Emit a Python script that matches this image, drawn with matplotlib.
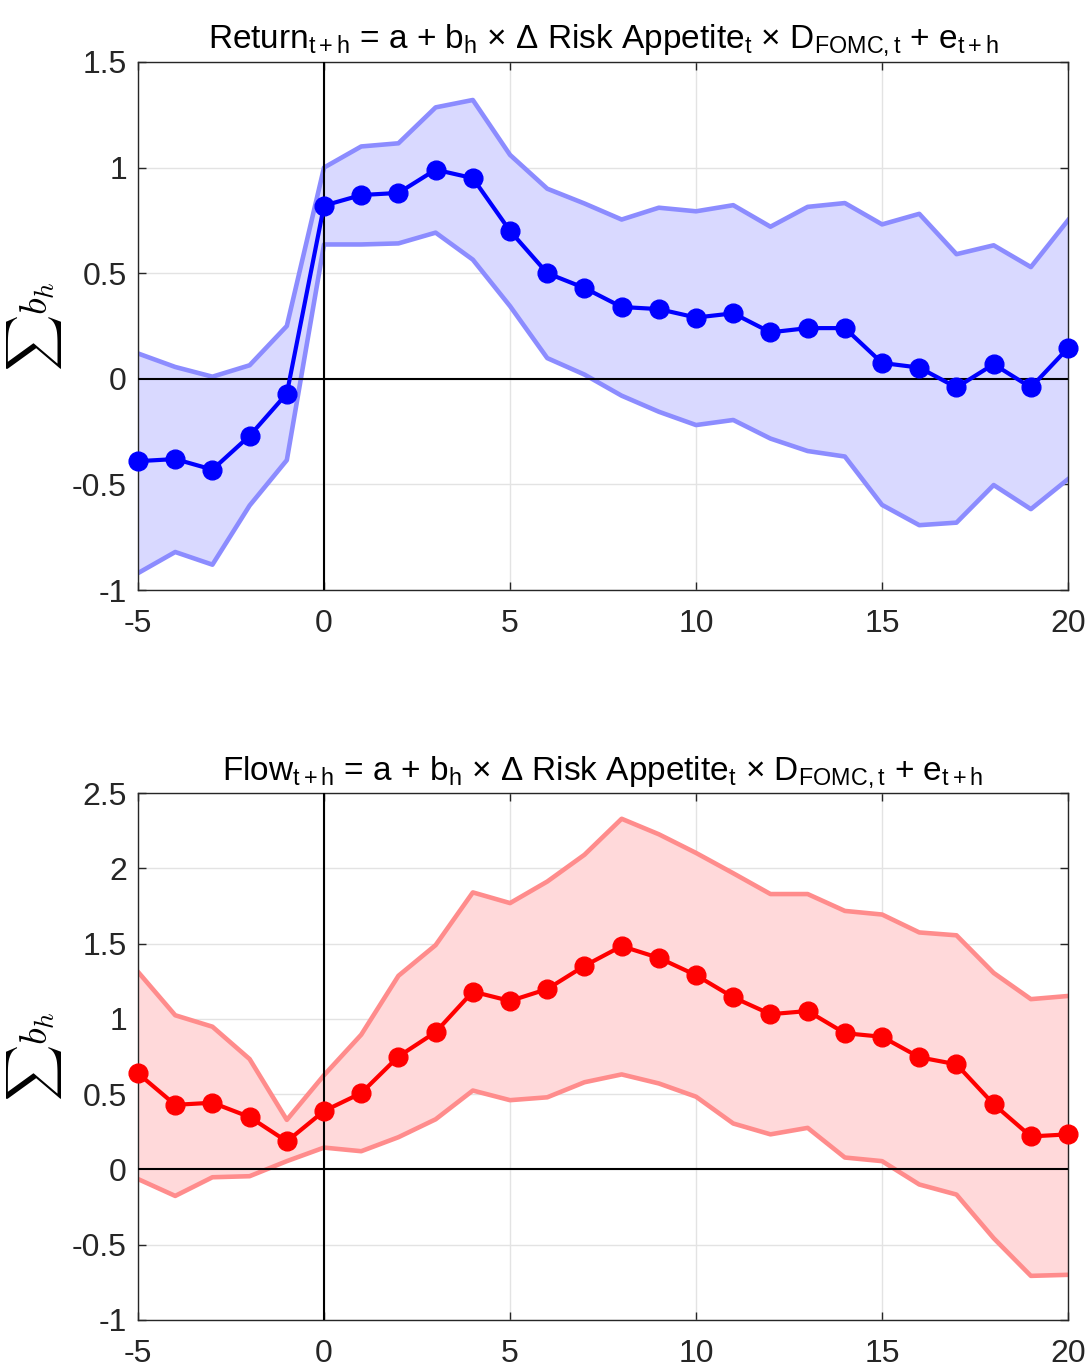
import numpy as np
import matplotlib
matplotlib.use('Agg')
import matplotlib.pyplot as plt

plt.rcParams['font.family'] = ['Liberation Sans', 'DejaVu Sans']
plt.rcParams['mathtext.fontset'] = 'custom'
plt.rcParams['mathtext.rm'] = 'Liberation Sans'
plt.rcParams['mathtext.it'] = 'Liberation Sans:italic'
plt.rcParams['axes.unicode_minus'] = False

# horizons
h = np.arange(-5, 21)

# Return regression: point estimate and band
ret_mean = [-0.39, -0.38, -0.43, -0.27, -0.07, 0.82, 0.87, 0.88, 0.99, 0.95,
            0.70, 0.50, 0.43, 0.34, 0.33, 0.29, 0.31, 0.22, 0.24, 0.24,
            0.075, 0.053, -0.041, 0.069, -0.041, 0.146]
ret_upper = [0.12, 0.056, 0.01, 0.064, 0.25, 1.0, 1.10, 1.115, 1.285, 1.32,
             1.06, 0.90, 0.83, 0.754, 0.81, 0.793, 0.822, 0.72, 0.814, 0.832,
             0.731, 0.781, 0.59, 0.632, 0.529, 0.751]
ret_lower = [-0.92, -0.82, -0.88, -0.60, -0.385, 0.636, 0.636, 0.641, 0.692, 0.564,
             0.344, 0.098, 0.02, -0.08, -0.156, -0.219, -0.195, -0.283, -0.342, -0.368,
             -0.597, -0.693, -0.681, -0.503, -0.617, -0.475]

# Flow regression
flow_mean = [0.638, 0.429, 0.443, 0.348, 0.186, 0.388, 0.507, 0.75, 0.912, 1.181,
             1.119, 1.198, 1.352, 1.483, 1.405, 1.29, 1.143, 1.031, 1.052, 0.905,
             0.881, 0.745, 0.698, 0.433, 0.219, 0.233]
flow_upper = [1.312, 1.024, 0.948, 0.733, 0.329, 0.626, 0.895, 1.286, 1.49, 1.84,
              1.769, 1.912, 2.09, 2.329, 2.226, 2.102, 1.967, 1.829, 1.829, 1.717,
              1.693, 1.574, 1.555, 1.305, 1.131, 1.152]
flow_lower = [-0.064, -0.176, -0.052, -0.045, 0.055, 0.145, 0.121, 0.214, 0.333, 0.524,
              0.46, 0.479, 0.579, 0.631, 0.571, 0.483, 0.305, 0.233, 0.276, 0.079,
              0.055, -0.1, -0.167, -0.457, -0.707, -0.70]

title_ret = (r'Return$_{\mathregular{t+h}}$ = a + b$_{\mathregular{h}}$ $\times$ $\Delta$ Risk Appetite$_{\mathregular{t}}$'
             r' $\times$ D$_{\mathregular{FOMC,t}}$ + e$_{\mathregular{t+h}}$')
title_flow = (r'Flow$_{\mathregular{t+h}}$ = a + b$_{\mathregular{h}}$ $\times$ $\Delta$ Risk Appetite$_{\mathregular{t}}$'
              r' $\times$ D$_{\mathregular{FOMC,t}}$ + e$_{\mathregular{t+h}}$')

fig = plt.figure(figsize=(10.91, 13.68), dpi=100)
ax1 = fig.add_axes([0.1265, 0.5687, 0.8525, 0.386])
ax2 = fig.add_axes([0.1265, 0.0351, 0.8525, 0.3852])


def draw(ax, mean, upper, lower, dark, edge, fill, ylim, yticks, title):
    ax.fill_between(h, lower, upper, color=fill, lw=0, zorder=1)
    ax.plot(h, upper, color=edge, lw=3.3, zorder=2)
    ax.plot(h, lower, color=edge, lw=3.3, zorder=2)
    ax.axhline(0, color='black', lw=1.5, zorder=3)
    ax.axvline(0, color='black', lw=1.5, zorder=3)
    ax.plot(h, mean, color=dark, lw=3, marker='o', markersize=13.5, zorder=4,
            clip_on=False)
    ax.set_xlim(-5, 20)
    ax.set_ylim(*ylim)
    ax.set_xticks([-5, 0, 5, 10, 15, 20])
    ax.set_yticks(yticks)
    ax.set_yticklabels([('%g' % v) for v in yticks])
    ax.grid(True, color='#e3e3e3', lw=1)
    ax.set_axisbelow(True)
    ax.tick_params(direction='in', length=6, width=1, colors='#262626',
                   labelsize=23, top=True, right=True, pad=8)
    ax.tick_params(axis='x', pad=14)
    for s in ax.spines.values():
        s.set_color('#262626')
        s.set_linewidth(1)
    ax.set_ylabel(r'$\sum b_h$', fontsize=28, math_fontfamily='cm', labelpad=6)
    ax.set_title(title, fontsize=24, pad=10)


draw(ax1, ret_mean, ret_upper, ret_lower, '#0000ff', '#8c8cff', '#d9d9ff',
     (-1, 1.5), [-1, -0.5, 0, 0.5, 1, 1.5], title_ret)
draw(ax2, flow_mean, flow_upper, flow_lower, '#ff0000', '#ff8c8c', '#ffd9da',
     (-1, 2.5), [-1, -0.5, 0, 0.5, 1, 1.5, 2, 2.5], title_flow)

fig.savefig('out.png', dpi=100)
